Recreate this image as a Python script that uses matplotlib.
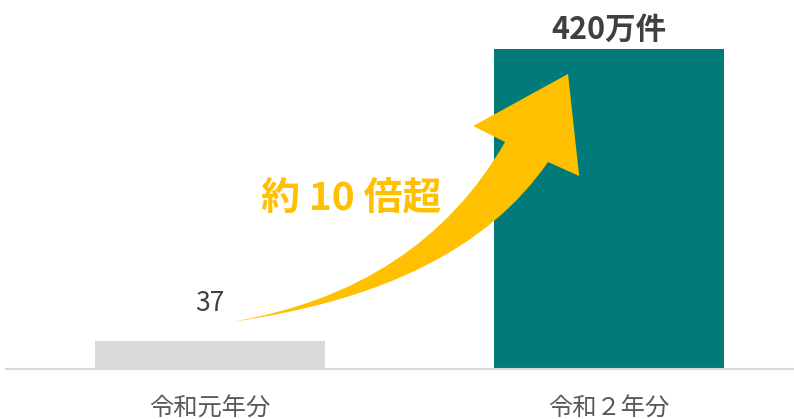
import numpy as np
import matplotlib.pyplot as plt
from matplotlib.path import Path
from matplotlib.patches import PathPatch

plt.rcParams['font.family'] = ['Noto Sans CJK JP', 'DejaVu Sans']

categories = ['令和元年分', '令和２年分']
values = [37, 420]
value_labels = ['37', '420万件']
bar_colors = ['#D9D9D9', '#007B7A']
ratio_text = '約 10 倍超'

fig = plt.figure(figsize=(7.94, 4.19), dpi=100)
ax = fig.add_axes([6 / 794, 50 / 419, 788 / 794, 369 / 419])

x = np.arange(len(categories))
ax.bar(x, values, width=0.577, color=bar_colors, zorder=1)

ax.set_xlim(-0.512, 1.465)
ax.set_ylim(0, 484.3)

# data labels
ax.annotate(value_labels[0], (x[0], values[0]), xytext=(0, 27), textcoords='offset points',
            ha='center', va='center', fontsize=19, color='#404040')
ax.annotate(value_labels[1], (x[1], values[1]), xytext=(0, 14), textcoords='offset points',
            ha='center', va='center', fontsize=22, fontweight='bold', color='#404040')

# curved arrow (data coords)
tail = (0.053, 61.7)
verts = [tail,
         (0.527, 103.7), (0.740, 297.9),
         (0.660, 318.9), (0.898, 387.2), (0.926, 253.3), (0.848, 271.7),
         (0.627, 103.7), tail,
         tail]
codes = [Path.MOVETO,
         Path.CURVE3, Path.CURVE3,
         Path.LINETO, Path.LINETO, Path.LINETO, Path.LINETO,
         Path.CURVE3, Path.CURVE3,
         Path.CLOSEPOLY]
ax.add_patch(PathPatch(Path(verts, codes), facecolor='#FFC000', edgecolor='none', zorder=3))

ax.text(0.355, 225, ratio_text, ha='center', va='center', fontsize=28,
        fontweight='bold', color='#FFC000', zorder=4)

ax.set_xticks(x)
ax.set_xticklabels(categories, fontsize=17.5, color='#595959')
ax.tick_params(axis='x', length=0, pad=19)
ax.set_yticks([])
for s in ['top', 'right', 'left']:
    ax.spines[s].set_visible(False)
ax.spines['bottom'].set_color('#D9D9D9')
ax.spines['bottom'].set_linewidth(1.5)

fig.savefig('out.png', dpi=100)
